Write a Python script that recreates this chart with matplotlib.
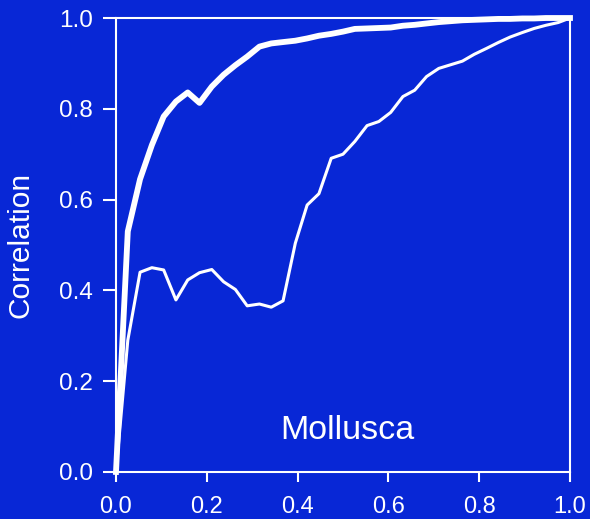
import matplotlib
matplotlib.use("Agg")
import matplotlib.pyplot as plt

# sampling fraction on the x axis (shared by both curves)
frac = [0.0, 0.026, 0.053, 0.079, 0.105, 0.132, 0.158, 0.184, 0.211, 0.237,
        0.263, 0.289, 0.316, 0.342, 0.368, 0.395, 0.421, 0.447, 0.474, 0.500,
        0.526, 0.553, 0.579, 0.605, 0.632, 0.658, 0.684, 0.711, 0.737, 0.763,
        0.789, 0.816, 0.842, 0.868, 0.895, 0.921, 0.947, 0.974, 1.0]

# thick curve
corr_hi = [0.0, 0.53, 0.645, 0.72, 0.783, 0.816, 0.836, 0.813, 0.849, 0.875,
           0.896, 0.915, 0.937, 0.944, 0.947, 0.950, 0.955, 0.961, 0.965, 0.970,
           0.976, 0.977, 0.978, 0.979, 0.983, 0.985, 0.988, 0.991, 0.993, 0.995,
           0.996, 0.997, 0.998, 0.998, 0.999, 0.999, 1.0, 1.0, 1.0]

# thin curve
corr_lo = [0.0, 0.29, 0.44, 0.45, 0.445, 0.379, 0.423, 0.439, 0.446, 0.419,
           0.402, 0.366, 0.370, 0.363, 0.377, 0.504, 0.588, 0.613, 0.691, 0.700,
           0.728, 0.763, 0.772, 0.792, 0.827, 0.841, 0.871, 0.889, 0.897, 0.905,
           0.920, 0.933, 0.946, 0.958, 0.968, 0.977, 0.984, 0.990, 1.0]

ticks = [0.0, 0.2, 0.4, 0.6, 0.8, 1.0]
tick_labels = ["0.0", "0.2", "0.4", "0.6", "0.8", "1.0"]

bg = "#0827d6"
plt.rcParams["font.family"] = ["Liberation Sans", "DejaVu Sans"]

fig = plt.figure(figsize=(5.9, 5.19), dpi=100, facecolor=bg)
ax = fig.add_axes([0.1966, 0.0906, 0.7695, 0.8747], facecolor=bg)

ax.plot(frac, corr_hi, color="white", lw=4.2, solid_joinstyle="round", clip_on=False)
ax.plot(frac, corr_lo, color="white", lw=2.2, solid_joinstyle="round", clip_on=False)

ax.set_xlim(0, 1)
ax.set_ylim(0, 1)
ax.set_xticks(ticks)
ax.set_xticklabels(tick_labels)
ax.set_yticks(ticks)
ax.set_yticklabels(tick_labels)

for s in ax.spines.values():
    s.set_color("white")
    s.set_linewidth(1.5)

ax.tick_params(axis="x", colors="white", labelsize=17, length=7.2, width=1.5, pad=10)
ax.tick_params(axis="y", colors="white", labelsize=17.5, length=9.4, width=1.5, pad=7)

ax.set_ylabel("Correlation", color="white", fontsize=21.5, labelpad=18)
ax.text(0.51, 0.092, "Mollusca", color="white", fontsize=24.5,
        ha="center", va="center", transform=ax.transData)

fig.savefig("out.png", dpi=100, facecolor=bg)
